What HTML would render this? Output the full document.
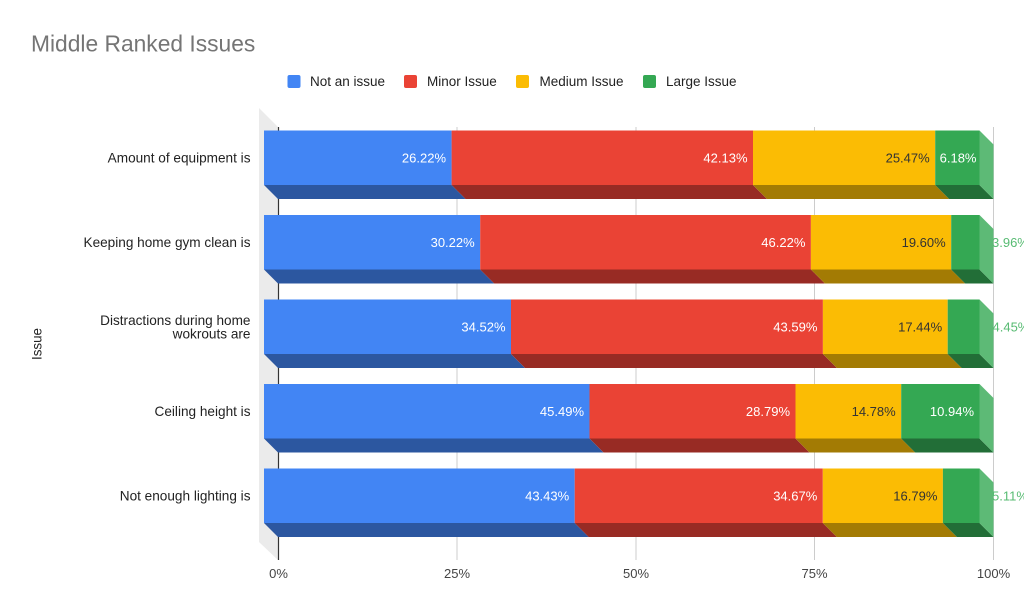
<!DOCTYPE html>
<html>
<head>
<meta charset="utf-8">
<style>
  html, body { margin: 0; padding: 0; background: #fff; }
  body { width: 1024px; height: 612px; overflow: hidden; }
  svg { display: block; font-family: "Liberation Sans", Arial, sans-serif; }
</style>
</head>
<body>
<svg width="1024" height="612" viewBox="0 0 1024 612" xmlns="http://www.w3.org/2000/svg">
  <rect x="0" y="0" width="1024" height="612" fill="#ffffff"/>

  <!-- Title -->
  <text x="31" y="51.5" font-size="22.8" fill="#757575">Middle Ranked Issues</text>

  <!-- Legend -->
  <rect x="287.5" y="75" width="13" height="13" rx="2" fill="#4285f4"/>
  <text x="310" y="86" font-size="13.5" fill="#222">Not an issue</text>
  <rect x="404" y="75" width="13" height="13" rx="2" fill="#ea4335"/>
  <text x="427" y="86" font-size="13.5" fill="#222">Minor Issue</text>
  <rect x="516" y="75" width="13" height="13" rx="2" fill="#fbbc04"/>
  <text x="539.5" y="86" font-size="13.5" fill="#222">Medium Issue</text>
  <rect x="643" y="75" width="13" height="13" rx="2" fill="#34a853"/>
  <text x="666" y="86" font-size="13.5" fill="#222">Large Issue</text>

  <!-- Side wall -->
  <polygon points="259,108 278,127 278,560 259,542" fill="#ebebeb"/>

  <!-- Gridlines -->
  <g stroke="#cccccc" stroke-width="1">
    <line x1="457" y1="127" x2="457" y2="560"/>
    <line x1="636" y1="127" x2="636" y2="560"/>
    <line x1="814.5" y1="127" x2="814.5" y2="560"/>
    <line x1="993.5" y1="127" x2="993.5" y2="560"/>
  </g>
  <line x1="278.5" y1="127" x2="278.5" y2="560" stroke="#333333" stroke-width="1.2"/>

  <!-- Bars: front x = 264 + 7.155*p ; depth offset (14,14) ; height 54.5 -->
  <!-- Row 1: 26.22, 42.13, 25.47, 6.18 ; top 130.5 -->
  <g>
    <polygon points="264,185 451.6,185 465.6,199 278,199" fill="#2c57a0"/>
    <polygon points="451.6,185 753.0,185 767.0,199 465.6,199" fill="#982b24"/>
    <polygon points="753.0,185 935.2,185 949.2,199 767.0,199" fill="#a37b04"/>
    <polygon points="935.2,185 979.5,185 993.5,199 949.2,199" fill="#226e37"/>
    <polygon points="979.5,130.5 993.5,144.5 993.5,199 979.5,185" fill="#5dba76"/>
    <rect x="264" y="130.5" width="187.6" height="54.5" fill="#4285f4"/>
    <rect x="451.6" y="130.5" width="301.4" height="54.5" fill="#ea4335"/>
    <rect x="753.0" y="130.5" width="182.2" height="54.5" fill="#fbbc04"/>
    <rect x="935.2" y="130.5" width="44.3" height="54.5" fill="#34a853"/>
  </g>
  <!-- Row 2: 30.22, 46.22, 19.60, 3.96 ; top 215 -->
  <g>
    <polygon points="264,269.5 480.2,269.5 494.2,283.5 278,283.5" fill="#2c57a0"/>
    <polygon points="480.2,269.5 810.9,269.5 824.9,283.5 494.2,283.5" fill="#982b24"/>
    <polygon points="810.9,269.5 951.2,269.5 965.2,283.5 824.9,283.5" fill="#a37b04"/>
    <polygon points="951.2,269.5 979.5,269.5 993.5,283.5 965.2,283.5" fill="#226e37"/>
    <polygon points="979.5,215 993.5,229 993.5,283.5 979.5,269.5" fill="#5dba76"/>
    <rect x="264" y="215" width="216.2" height="54.5" fill="#4285f4"/>
    <rect x="480.2" y="215" width="330.7" height="54.5" fill="#ea4335"/>
    <rect x="810.9" y="215" width="140.3" height="54.5" fill="#fbbc04"/>
    <rect x="951.2" y="215" width="28.3" height="54.5" fill="#34a853"/>
  </g>
  <!-- Row 3: 34.52, 43.59, 17.44, 4.45 ; top 299.5 -->
  <g>
    <polygon points="264,354 511.0,354 525.0,368 278,368" fill="#2c57a0"/>
    <polygon points="511.0,354 822.9,354 836.9,368 525.0,368" fill="#982b24"/>
    <polygon points="822.9,354 947.7,354 961.7,368 836.9,368" fill="#a37b04"/>
    <polygon points="947.7,354 979.5,354 993.5,368 961.7,368" fill="#226e37"/>
    <polygon points="979.5,299.5 993.5,313.5 993.5,368 979.5,354" fill="#5dba76"/>
    <rect x="264" y="299.5" width="247.0" height="54.5" fill="#4285f4"/>
    <rect x="511.0" y="299.5" width="311.9" height="54.5" fill="#ea4335"/>
    <rect x="822.9" y="299.5" width="124.8" height="54.5" fill="#fbbc04"/>
    <rect x="947.7" y="299.5" width="31.8" height="54.5" fill="#34a853"/>
  </g>
  <!-- Row 4: 45.49, 28.79, 14.78, 10.94 ; top 384 -->
  <g>
    <polygon points="264,438.5 589.5,438.5 603.5,452.5 278,452.5" fill="#2c57a0"/>
    <polygon points="589.5,438.5 795.5,438.5 809.5,452.5 603.5,452.5" fill="#982b24"/>
    <polygon points="795.5,438.5 901.2,438.5 915.2,452.5 809.5,452.5" fill="#a37b04"/>
    <polygon points="901.2,438.5 979.5,438.5 993.5,452.5 915.2,452.5" fill="#226e37"/>
    <polygon points="979.5,384 993.5,398 993.5,452.5 979.5,438.5" fill="#5dba76"/>
    <rect x="264" y="384" width="325.5" height="54.5" fill="#4285f4"/>
    <rect x="589.5" y="384" width="206.0" height="54.5" fill="#ea4335"/>
    <rect x="795.5" y="384" width="105.7" height="54.5" fill="#fbbc04"/>
    <rect x="901.2" y="384" width="78.3" height="54.5" fill="#34a853"/>
  </g>
  <!-- Row 5: 43.43, 34.67, 16.79, 5.11 ; top 468.5 -->
  <g>
    <polygon points="264,523 574.7,523 588.7,537 278,537" fill="#2c57a0"/>
    <polygon points="574.7,523 822.8,523 836.8,537 588.7,537" fill="#982b24"/>
    <polygon points="822.8,523 942.9,523 956.9,537 836.8,537" fill="#a37b04"/>
    <polygon points="942.9,523 979.5,523 993.5,537 956.9,537" fill="#226e37"/>
    <polygon points="979.5,468.5 993.5,482.5 993.5,537 979.5,523" fill="#5dba76"/>
    <rect x="264" y="468.5" width="310.7" height="54.5" fill="#4285f4"/>
    <rect x="574.7" y="468.5" width="248.1" height="54.5" fill="#ea4335"/>
    <rect x="822.8" y="468.5" width="120.1" height="54.5" fill="#fbbc04"/>
    <rect x="942.9" y="468.5" width="36.6" height="54.5" fill="#34a853"/>
  </g>

  <!-- Value labels -->
  <g font-size="13" text-anchor="end">
    <text x="446" y="162.5" fill="#ffffff">26.22%</text>
    <text x="747.5" y="162.5" fill="#ffffff">42.13%</text>
    <text x="929.7" y="162.5" fill="#333333">25.47%</text>
    <text x="976.5" y="162.5" fill="#ffffff">6.18%</text>

    <text x="474.7" y="247" fill="#ffffff">30.22%</text>
    <text x="805.4" y="247" fill="#ffffff">46.22%</text>
    <text x="945.7" y="247" fill="#333333">19.60%</text>

    <text x="505.5" y="331.5" fill="#ffffff">34.52%</text>
    <text x="817.4" y="331.5" fill="#ffffff">43.59%</text>
    <text x="942.2" y="331.5" fill="#333333">17.44%</text>

    <text x="584" y="416" fill="#ffffff">45.49%</text>
    <text x="790" y="416" fill="#ffffff">28.79%</text>
    <text x="895.7" y="416" fill="#333333">14.78%</text>
    <text x="974" y="416" fill="#ffffff">10.94%</text>

    <text x="569.2" y="500.5" fill="#ffffff">43.43%</text>
    <text x="817.3" y="500.5" fill="#ffffff">34.67%</text>
    <text x="937.4" y="500.5" fill="#333333">16.79%</text>
  </g>
  <g font-size="13" fill="#57bb72">
    <text x="992" y="247">3.96%</text>
    <text x="992.5" y="331.5">4.45%</text>
    <text x="992" y="500.5">5.11%</text>
  </g>

  <!-- Category labels -->
  <g font-size="13.6" fill="#222222" text-anchor="end">
    <text x="250.5" y="162.5">Amount of equipment is</text>
    <text x="250.5" y="247">Keeping home gym clean is</text>
    <text x="250.5" y="325">Distractions during home</text>
    <text x="250.5" y="338.5">wokrouts are</text>
    <text x="250.5" y="416">Ceiling height is</text>
    <text x="250.5" y="500.5">Not enough lighting is</text>
  </g>

  <!-- Axis title -->
  <text x="0" y="0" font-size="13.4" fill="#222222" text-anchor="middle" transform="translate(41.5,344) rotate(-90)">Issue</text>

  <!-- X tick labels -->
  <g font-size="13" fill="#444444" text-anchor="middle">
    <text x="278.5" y="578">0%</text>
    <text x="457" y="578">25%</text>
    <text x="636" y="578">50%</text>
    <text x="814.5" y="578">75%</text>
    <text x="993.5" y="578">100%</text>
  </g>
</svg>
</body>
</html>
